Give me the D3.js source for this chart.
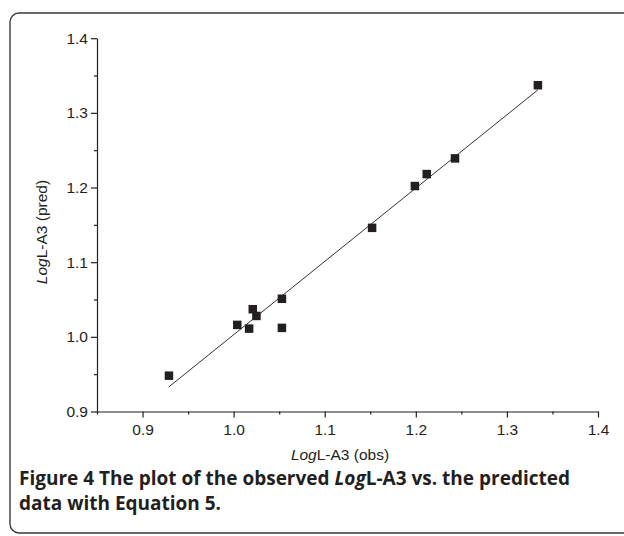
<!DOCTYPE html>
<html>
<head>
<meta charset="utf-8">
<script src="https://cdn.jsdelivr.net/npm/d3@7"></script>
<style>
  html, body { margin: 0; padding: 0; background: #fff; }
  svg { display: block; }
</style>
</head>
<body>
<svg id="chart" width="624" height="536"></svg>
<script>
// ---- data ----
const obsValues  = [0.929, 1.004, 1.017, 1.021, 1.025, 1.053, 1.053, 1.152, 1.199, 1.212, 1.243, 1.334];
const predValues = [0.948, 1.016, 1.011, 1.037, 1.028, 1.051, 1.012, 1.146, 1.202, 1.218, 1.239, 1.337];
const fitX = [0.9286, 1.3339];
const fitY = [0.9327, 1.3307];
const xTicks = [0.9, 1.0, 1.1, 1.2, 1.3, 1.4];
const yTicks = [0.9, 1.0, 1.1, 1.2, 1.3, 1.4];
const xMinorTicks = [0.85, 0.95, 1.05, 1.15, 1.25, 1.35];
const yMinorTicks = [0.95, 1.05, 1.15, 1.25, 1.35];
const xDomain = [0.85, 1.4];
const yDomain = [0.9, 1.4];

const ink = "#231f20";
const svg = d3.select("#chart");

// frame
svg.append("rect")
  .attr("x", 10).attr("y", 13)
  .attr("width", 640).attr("height", 520)
  .attr("rx", 9).attr("ry", 9)
  .attr("fill", "none").attr("stroke", "#3a3a3a").attr("stroke-width", 1.4);

const x = d3.scaleLinear().domain(xDomain).range([97, 598]);
const y = d3.scaleLinear().domain(yDomain).range([411.5, 38.2]);

const g = svg.append("g");

// x axis
const xAxis = g.append("g").attr("transform", `translate(0,${y(yDomain[0])})`)
  .call(d3.axisBottom(x).tickValues(xTicks).tickFormat(d3.format(".1f")).tickSize(6).tickSizeOuter(0));
g.append("g").attr("transform", `translate(0,${y(yDomain[0])})`)
  .call(d3.axisBottom(x).tickValues(xMinorTicks).tickFormat("").tickSize(3).tickSizeOuter(0))
  .select(".domain").remove();

// y axis
const yAxis = g.append("g").attr("transform", `translate(${x(xDomain[0])},0)`)
  .call(d3.axisLeft(y).tickValues(yTicks).tickFormat(d3.format(".1f")).tickSize(6).tickSizeOuter(0));
g.append("g").attr("transform", `translate(${x(xDomain[0])},0)`)
  .call(d3.axisLeft(y).tickValues(yMinorTicks).tickFormat("").tickSize(3).tickSizeOuter(0))
  .select(".domain").remove();

g.selectAll(".domain, .tick line").attr("stroke", ink).attr("stroke-width", 1.2);
g.selectAll(".tick text")
  .attr("fill", ink)
  .style("font-family", "'Liberation Sans', Arial, sans-serif")
  .style("font-size", "15.5px");
xAxis.selectAll(".tick text").attr("dy", "0.95em");
yAxis.selectAll(".tick text").attr("x", -9);

// axis titles
const xt = svg.append("text")
  .attr("x", 340).attr("y", 460)
  .attr("text-anchor", "middle")
  .attr("fill", ink)
  .style("font-family", "'Liberation Sans', Arial, sans-serif")
  .style("font-size", "15.5px");
xt.append("tspan").attr("font-style", "italic").text("Log");
xt.append("tspan").text("L-A3 (obs)");

const yt = svg.append("text")
  .attr("transform", `translate(47,232) rotate(-90)`)
  .attr("text-anchor", "middle")
  .attr("fill", ink)
  .style("font-family", "'Liberation Sans', Arial, sans-serif")
  .style("font-size", "15.5px");
yt.append("tspan").attr("font-style", "italic").text("Log");
yt.append("tspan").text("L-A3 (pred)");

// fit line
svg.append("line")
  .attr("x1", x(fitX[0])).attr("y1", y(fitY[0]))
  .attr("x2", x(fitX[1])).attr("y2", y(fitY[1]))
  .attr("stroke", "#333").attr("stroke-width", 1);

// points
const s = 8.5;
svg.selectAll("rect.pt")
  .data(obsValues.map((v, i) => [v, predValues[i]]))
  .join("rect")
  .attr("class", "pt")
  .attr("x", d => x(d[0]) - s / 2)
  .attr("y", d => y(d[1]) - s / 2)
  .attr("width", s).attr("height", s)
  .attr("fill", ink);

// caption
const capFont = "'Open Sans', 'Noto Sans', sans-serif";
const c1 = svg.append("text")
  .attr("x", 19).attr("y", 485)
  .attr("fill", ink)
  .style("font-family", capFont)
  .style("font-weight", "700")
  .style("font-size", "19px");
c1.append("tspan").text("Figure 4 The plot of the observed ");
c1.append("tspan").attr("font-style", "italic").text("Log");
c1.append("tspan").text("L-A3 vs. the predicted");

svg.append("text")
  .attr("x", 19).attr("y", 510)
  .attr("fill", ink)
  .style("font-family", capFont)
  .style("font-weight", "700")
  .style("font-size", "19px")
  .text("data with Equation 5.");
</script>
</body>
</html>
